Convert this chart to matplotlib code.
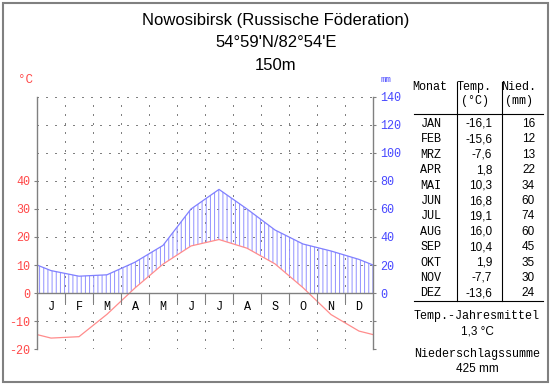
import numpy as np
import matplotlib.pyplot as plt
from matplotlib.patches import Rectangle

plt.rcParams["hatch.linewidth"] = 0.7

months_short = ["J", "F", "M", "A", "M", "J", "J", "A", "S", "O", "N", "D"]
months_table = ["JAN", "FEB", "MRZ", "APR", "MAI", "JUN", "JUL", "AUG", "SEP", "OKT", "NOV", "DEZ"]
temp = [-16.1, -15.6, -7.6, 1.8, 10.3, 16.8, 19.1, 16.0, 10.4, 1.9, -7.7, -13.6]
prec = [16, 12, 13, 22, 34, 60, 74, 60, 45, 35, 30, 24]
temp_labels = ["-16,1", "-15,6", "-7,6", "1,8", "10,3", "16,8", "19,1", "16,0", "10,4", "1,9", "-7,7", "-13,6"]
title_lines = ["Nowosibirsk (Russische Föderation)", "54°59'N/82°54'E", "150m"]
mean_temp = "1,3 °C"
total_prec = "425 mm"

RED_TXT = "#ff4848"
RED_LINE = "#ff8c8c"
BLUE_TXT = "#4848ff"
BLUE_LINE = "#8080ff"
GRAY = "#808080"
MONO = "Liberation Mono"
SANS = "Liberation Sans"

W, H = 550, 384
fig = plt.figure(figsize=(W / 100, H / 100), dpi=100)

# wrap Dec/Jan onto the edges like the original diagram
t = np.array(temp)
p = np.array(prec) / 2.0          # 20 mm <-> 10 degC
xm = np.arange(12) + 0.5
xe = np.concatenate([[0], xm, [12]])
te = np.concatenate([[(t[0] + t[-1]) / 2], t, [(t[0] + t[-1]) / 2]])
pe = np.concatenate([[(p[0] + p[-1]) / 2], p, [(p[0] + p[-1]) / 2]])

ax = fig.add_axes([37 / W, 1 - 349 / H, 336 / W, 252 / H])
ax.set_xlim(0, 12)
ax.set_ylim(-20, 70)
for s in ax.spines.values():
    s.set_visible(False)

# dotted grid
dots = (0, (1.4, 7.9))
for yv in range(-20, 71, 10):
    ax.plot([0, 12], [yv, yv], color=GRAY, lw=0.72, ls=dots, zorder=1, antialiased=False)
for xv in range(1, 12):
    ax.plot([xv, xv], [-20, 70], color=GRAY, lw=0.72, ls=dots, zorder=1, antialiased=False)

# hatched humid area
xs = np.linspace(0, 12, 1201)
tt = np.interp(xs, xe, te)
pp = np.interp(xs, xe, pe)
ax.fill_between(xs, np.maximum(tt, 0), pp, where=pp > np.maximum(tt, 0),
                facecolor="none", edgecolor="#9090ff", hatch="||||", lw=0, zorder=2)

ax.plot(xe, pe, color=BLUE_LINE, lw=0.9, zorder=3)
ax.plot(xe, te, color=RED_LINE, lw=0.9, zorder=4)

# axes lines
ax.plot([0, 12], [0, 0], color=GRAY, lw=1, zorder=5)
ax.plot([0, 0], [-20, 70], color=GRAY, lw=1, zorder=5, clip_on=False)
ax.plot([12, 12], [-20, 70], color=GRAY, lw=1, zorder=5, clip_on=False)
for xv in range(1, 12):
    ax.plot([xv, xv], [0, -3.2], color=GRAY, lw=0.8, zorder=5)

for i, m in enumerate(months_short):
    ax.text(xm[i], -5, m, ha="center", va="center", family=MONO, fontsize=8.5)

ax.set_xticks([])
ax.set_yticks(range(-20, 41, 10))
ax.set_yticklabels([f"{v}" for v in range(-20, 41, 10)], family=MONO, fontsize=8.5, color=RED_TXT)
ax.tick_params(axis="y", length=2, color=GRAY, pad=3)

ax2 = ax.twinx()
ax2.set_ylim(-40, 140)
for s in ax2.spines.values():
    s.set_visible(False)
ax2.set_yticks(range(-40, 141, 20))
ax2.set_yticklabels(["" if v < 0 else str(v) for v in range(-40, 141, 20)],
                    family=MONO, fontsize=8.5, color=BLUE_TXT)
ax2.tick_params(axis="y", length=2, color=GRAY, pad=3)

fig.text(25 / W, 1 - 80 / H, "°C", color=RED_TXT, family=MONO, fontsize=9, ha="center", va="center")
fig.text(386 / W, 1 - 80 / H, "mm", color=BLUE_TXT, family=MONO, fontsize=6.5, ha="center", va="center")

# title
for i, line in enumerate(title_lines):
    fig.text(276 / W, 1 - (20 + 22.5 * i) / H, line, ha="center", va="center", family=SANS, fontsize=12)

# table
def fy(py):
    return 1 - py / H

fig.text(430 / W, fy(87), "Monat", ha="center", va="center", family=MONO, fontsize=8.5)
fig.text(474 / W, fy(87), "Temp.", ha="center", va="center", family=MONO, fontsize=8.5)
fig.text(475 / W, fy(101), "(°C)", ha="center", va="center", family=MONO, fontsize=8.5)
fig.text(519 / W, fy(87), "Nied.", ha="center", va="center", family=MONO, fontsize=8.5)
fig.text(519 / W, fy(101), "(mm)", ha="center", va="center", family=MONO, fontsize=8.5)

for i in range(12):
    yy = fy(124 + 15.4 * i)
    fig.text(431 / W, yy, months_table[i], ha="center", va="center", family=MONO, fontsize=8.5)
    fig.text(492 / W, yy, temp_labels[i], ha="right", va="center", family=SANS, fontsize=8.5)
    fig.text(535 / W, yy, str(prec[i]), ha="right", va="center", family=SANS, fontsize=8.5)

for py in (114, 301):
    fig.add_artist(plt.Line2D([414 / W, 543 / W], [fy(py), fy(py)], color="black", lw=0.8))
for px in (457, 502):
    fig.add_artist(plt.Line2D([px / W, px / W], [fy(82), fy(301)], color="black", lw=0.8))

fig.text(477 / W, fy(316), "Temp.-Jahresmittel", ha="center", va="center", family=MONO, fontsize=8.5)
fig.text(477 / W, fy(331), mean_temp, ha="center", va="center", family=SANS, fontsize=8.5)
fig.text(477 / W, fy(354), "Niederschlagssumme", ha="center", va="center", family=MONO, fontsize=8.5)
fig.text(477 / W, fy(369), total_prec, ha="center", va="center", family=SANS, fontsize=8.5)

# outer frame
fig.add_artist(Rectangle((2.5 / W, 2.5 / H), 545 / W, 379 / H, transform=fig.transFigure,
                         fill=False, ec=GRAY, lw=1.5))

fig.savefig("out.png", dpi=100)
